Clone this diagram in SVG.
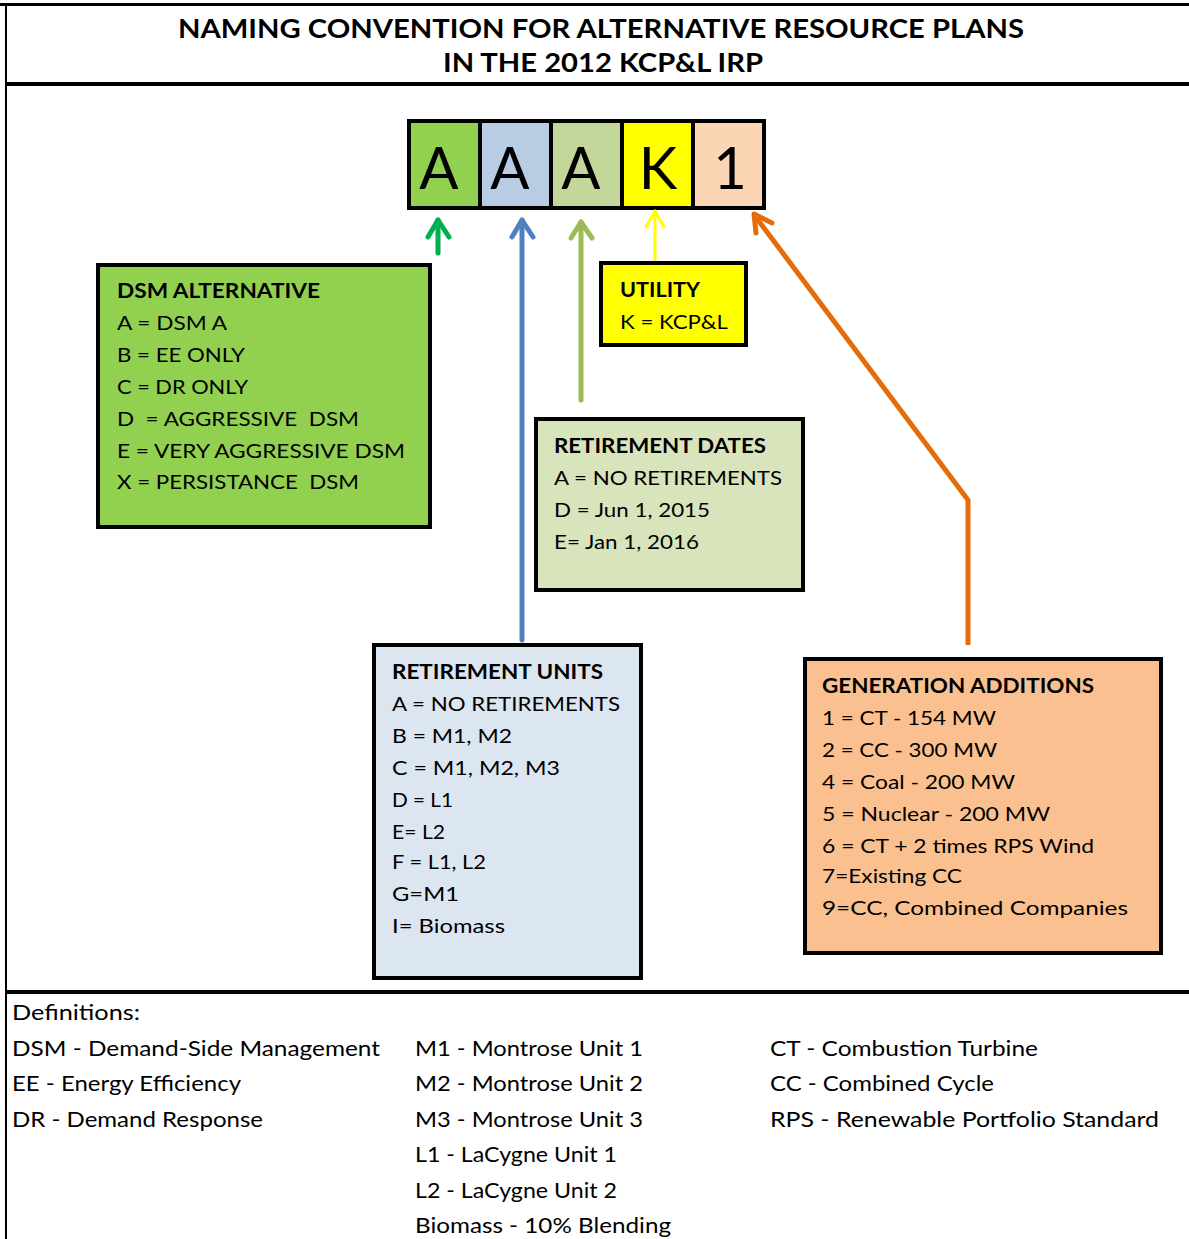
<svg xmlns="http://www.w3.org/2000/svg" width="1189" height="1239" viewBox="0 0 1189 1239">
<style>
text{font-family:Lato,"Liberation Sans",sans-serif;fill:#000}
.t{font-size:27px;font-weight:bold}
.h{font-size:20px;font-weight:bold}
.b{font-size:20px}
.f{font-size:21px}
.big{font-size:58px;text-anchor:middle}
.box{stroke:#000;stroke-width:4}
.cell{stroke:#000;stroke-width:4}
.c{fill:none;stroke-linecap:round;stroke-linejoin:round}
</style>
<rect width="1189" height="1239" fill="#fff"/>
<g id="frame">
<line x1="0" y1="4.5" x2="1189" y2="4.5" stroke="#000" stroke-width="3"/>
<line x1="6" y1="4" x2="6" y2="1239" stroke="#000" stroke-width="2"/>
<line x1="6" y1="84" x2="1189" y2="84" stroke="#000" stroke-width="4"/>
<line x1="6" y1="992" x2="1189" y2="992" stroke="#000" stroke-width="4"/>
</g>
<g id="title">
<text class="t" x="178" y="38" textLength="846" lengthAdjust="spacingAndGlyphs">NAMING CONVENTION FOR ALTERNATIVE RESOURCE PLANS</text>
<text class="t" x="443" y="72" textLength="320" lengthAdjust="spacingAndGlyphs">IN THE 2012 KCP&amp;L IRP</text>
</g>
<g id="code">
<rect class="cell" x="409" y="121" width="71" height="87" fill="#92D050"/>
<rect class="cell" x="480" y="121" width="71" height="87" fill="#B8CCE4"/>
<rect class="cell" x="551" y="121" width="71" height="87" fill="#C4D79B"/>
<rect class="cell" x="622" y="121" width="71" height="87" fill="#FFFF00"/>
<rect class="cell" x="693" y="121" width="71" height="87" fill="#FCD5B4"/>
<text class="big" x="439" y="189">A</text>
<text class="big" x="510" y="189">A</text>
<text class="big" x="581" y="189">A</text>
<text class="big" x="658" y="189">K</text>
<text class="big" x="730" y="189">1</text>
</g>
<g id="connectors">
<path class="c" d="M438 253V220" stroke="#00B050" stroke-width="5"/>
<path class="c" d="M428 237L438 220L449 237" stroke="#00B050" stroke-width="5"/>
<path class="c" d="M522 640V220" stroke="#4F81BD" stroke-width="5"/>
<path class="c" d="M512 237L522 220L533 237" stroke="#4F81BD" stroke-width="5"/>
<path class="c" d="M581 400V222" stroke="#9BBB59" stroke-width="5"/>
<path class="c" d="M571 238L581 222L592 238" stroke="#9BBB59" stroke-width="5"/>
<path class="c" d="M655 262V211" stroke="#FFFF00" stroke-width="3"/>
<path class="c" d="M646 227L655 211L664 227" stroke="#FFFF00" stroke-width="3"/>
<path d="M968 645V500L755 216" fill="none" stroke="#E46C0A" stroke-width="5" stroke-linejoin="miter"/>
<path class="c" d="M756 233L754 214L772 223" stroke="#E46C0A" stroke-width="5"/>
</g>
<g id="dsm">
<rect class="box" x="98" y="265" width="332" height="262" fill="#92D050"/>
<text class="h" x="117" y="298" textLength="203" lengthAdjust="spacingAndGlyphs">DSM ALTERNATIVE</text>
<text class="b" x="117" y="330" textLength="110" lengthAdjust="spacingAndGlyphs">A = DSM A</text>
<text class="b" x="117" y="362" textLength="128" lengthAdjust="spacingAndGlyphs">B = EE ONLY</text>
<text class="b" x="117" y="394" textLength="131" lengthAdjust="spacingAndGlyphs">C = DR ONLY</text>
<text class="b" x="117" y="426" textLength="242" lengthAdjust="spacingAndGlyphs" xml:space="preserve">D  = AGGRESSIVE  DSM</text>
<text class="b" x="117" y="458" textLength="288" lengthAdjust="spacingAndGlyphs">E = VERY AGGRESSIVE DSM</text>
<text class="b" x="117" y="489" textLength="242" lengthAdjust="spacingAndGlyphs" xml:space="preserve">X = PERSISTANCE  DSM</text>
</g>
<g id="utility">
<rect class="box" x="601" y="263" width="145" height="82" fill="#FFFF00"/>
<text class="h" x="620" y="297" textLength="80" lengthAdjust="spacingAndGlyphs">UTILITY</text>
<text class="b" x="620" y="329" textLength="108" lengthAdjust="spacingAndGlyphs">K = KCP&amp;L</text>
</g>
<g id="retirement-dates">
<rect class="box" x="536" y="419" width="267" height="171" fill="#D8E4BC"/>
<text class="h" x="554" y="453" textLength="212" lengthAdjust="spacingAndGlyphs">RETIREMENT DATES</text>
<text class="b" x="554" y="485" textLength="228" lengthAdjust="spacingAndGlyphs">A = NO RETIREMENTS</text>
<text class="b" x="554" y="517" textLength="156" lengthAdjust="spacingAndGlyphs">D = Jun 1, 2015</text>
<text class="b" x="554" y="549" textLength="145" lengthAdjust="spacingAndGlyphs">E= Jan 1, 2016</text>
</g>
<g id="retirement-units">
<rect class="box" x="374" y="645" width="267" height="333" fill="#DCE6F1"/>
<text class="h" x="392" y="679" textLength="211" lengthAdjust="spacingAndGlyphs">RETIREMENT UNITS</text>
<text class="b" x="392" y="711" textLength="228" lengthAdjust="spacingAndGlyphs">A = NO RETIREMENTS</text>
<text class="b" x="392" y="743" textLength="120" lengthAdjust="spacingAndGlyphs">B = M1, M2</text>
<text class="b" x="392" y="775" textLength="168" lengthAdjust="spacingAndGlyphs">C = M1, M2, M3</text>
<text class="b" x="392" y="807" textLength="61" lengthAdjust="spacingAndGlyphs">D = L1</text>
<text class="b" x="392" y="839" textLength="53" lengthAdjust="spacingAndGlyphs">E= L2</text>
<text class="b" x="392" y="869" textLength="94" lengthAdjust="spacingAndGlyphs">F = L1, L2</text>
<text class="b" x="392" y="901" textLength="67" lengthAdjust="spacingAndGlyphs">G=M1</text>
<text class="b" x="392" y="933" textLength="113" lengthAdjust="spacingAndGlyphs">I= Biomass</text>
</g>
<g id="generation-additions">
<rect class="box" x="805" y="659" width="356" height="294" fill="#FAC090"/>
<text class="h" x="822" y="693" textLength="272" lengthAdjust="spacingAndGlyphs">GENERATION ADDITIONS</text>
<text class="b" x="822" y="725" textLength="174" lengthAdjust="spacingAndGlyphs">1 = CT - 154 MW</text>
<text class="b" x="822" y="757" textLength="175" lengthAdjust="spacingAndGlyphs">2 = CC - 300 MW</text>
<text class="b" x="822" y="789" textLength="193" lengthAdjust="spacingAndGlyphs">4 = Coal - 200 MW</text>
<text class="b" x="822" y="821" textLength="228" lengthAdjust="spacingAndGlyphs">5 = Nuclear - 200 MW</text>
<text class="b" x="822" y="853" textLength="272" lengthAdjust="spacingAndGlyphs">6 = CT + 2 times RPS Wind</text>
<text class="b" x="822" y="883" textLength="140" lengthAdjust="spacingAndGlyphs">7=Existing CC</text>
<text class="b" x="822" y="915" textLength="306" lengthAdjust="spacingAndGlyphs">9=CC, Combined Companies</text>
</g>
<g id="definitions">
<text class="f" x="12" y="1020" textLength="128" lengthAdjust="spacingAndGlyphs">Definitions:</text>
<text class="f" x="12" y="1056" textLength="368" lengthAdjust="spacingAndGlyphs">DSM - Demand-Side Management</text>
<text class="f" x="12" y="1091" textLength="229" lengthAdjust="spacingAndGlyphs">EE - Energy Efficiency</text>
<text class="f" x="12" y="1127" textLength="251" lengthAdjust="spacingAndGlyphs">DR - Demand Response</text>
<text class="f" x="415" y="1056" textLength="228" lengthAdjust="spacingAndGlyphs">M1 - Montrose Unit 1</text>
<text class="f" x="415" y="1091" textLength="228" lengthAdjust="spacingAndGlyphs">M2 - Montrose Unit 2</text>
<text class="f" x="415" y="1127" textLength="228" lengthAdjust="spacingAndGlyphs">M3 - Montrose Unit 3</text>
<text class="f" x="415" y="1162" textLength="202" lengthAdjust="spacingAndGlyphs">L1 - LaCygne Unit 1</text>
<text class="f" x="415" y="1198" textLength="202" lengthAdjust="spacingAndGlyphs">L2 - LaCygne Unit 2</text>
<text class="f" x="415" y="1233" textLength="256" lengthAdjust="spacingAndGlyphs">Biomass - 10% Blending</text>
<text class="f" x="770" y="1056" textLength="268" lengthAdjust="spacingAndGlyphs">CT - Combustion Turbine</text>
<text class="f" x="770" y="1091" textLength="224" lengthAdjust="spacingAndGlyphs">CC - Combined Cycle</text>
<text class="f" x="770" y="1127" textLength="389" lengthAdjust="spacingAndGlyphs">RPS - Renewable Portfolio Standard</text>
</g>
</svg>
